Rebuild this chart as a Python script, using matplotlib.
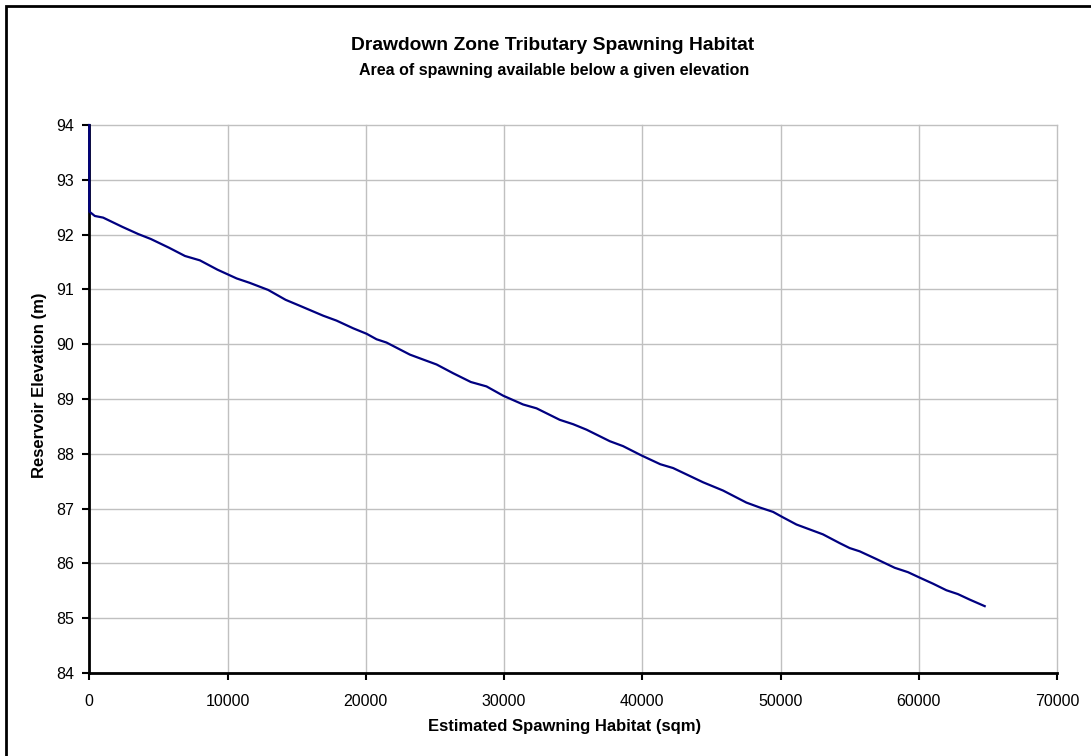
import matplotlib
matplotlib.use("Agg")
from matplotlib import pyplot as plt
from matplotlib.patches import Rectangle

plt.rcParams['font.family'] = ['Liberation Sans', 'DejaVu Sans']

# spawning area (sqm) available below each reservoir elevation (m)
habitat_sqm = [0, 0, 400, 800, 1000, 2400, 3540, 4450, 5770, 6920, 8000, 9270,
               10660, 11600, 12940, 14200, 15240, 16920, 17890, 19090, 20060,
               20780, 21500, 23190, 24150, 25120, 26320, 27600, 28730, 29940,
               31380, 32350, 34030, 35000, 35970, 37650, 38610, 39940, 41300,
               42230, 44400, 45840, 47530, 48500, 49460, 50180, 51150, 52110,
               53070, 54280, 55000, 55730, 56930, 58260, 59220, 60070, 61030,
               62000, 62830, 63680, 64770]
elevation_m = [94.0, 92.42, 92.34, 92.32, 92.31, 92.14, 92.01, 91.92, 91.76,
               91.61, 91.53, 91.36, 91.20, 91.12, 90.99, 90.81, 90.70, 90.52,
               90.43, 90.29, 90.19, 90.09, 90.03, 89.81, 89.72, 89.63, 89.47,
               89.31, 89.23, 89.06, 88.90, 88.83, 88.62, 88.54, 88.44, 88.23,
               88.14, 87.97, 87.81, 87.74, 87.48, 87.33, 87.11, 87.02, 86.94,
               86.84, 86.71, 86.62, 86.53, 86.37, 86.28, 86.22, 86.08, 85.92,
               85.84, 85.74, 85.63, 85.51, 85.44, 85.34, 85.22]

x_ticks = list(range(0, 70001, 10000))
y_ticks = list(range(84, 95))

W, H = 1091, 756
fig = plt.figure(figsize=(W / 100, H / 100), dpi=100)

# chart border (only top and left fall inside the picture)
fig.patches.append(Rectangle((6 / W, -0.1), 1.2, 1 - 5.5 / H + 0.1,
                             transform=fig.transFigure, fill=False,
                             edgecolor='black', linewidth=2.0))

ax = fig.add_axes([89.3 / W, 1 - 673 / H, (1057 - 89.3) / W, (673 - 125) / H])
ax.plot(habitat_sqm, elevation_m, color='#000080', linewidth=1.6,
        solid_joinstyle='round', zorder=3, clip_on=False)

ax.set_xlim(0, 70000)
ax.set_ylim(84, 94)
ax.set_xticks(x_ticks)
ax.set_yticks(y_ticks)
ax.grid(True, color='#c0c0c0', linewidth=1.0)
ax.set_axisbelow(True)
for gl in ax.get_xgridlines() + ax.get_ygridlines():
    gl.set_clip_on(False)
for side in ['top', 'right']:
    ax.spines[side].set_visible(False)
for side in ['left', 'bottom']:
    ax.spines[side].set_linewidth(2.0)
ax.tick_params(direction='out', length=5, width=1.5, labelsize=11.5,
               colors='black', pad=10)
ax.tick_params(axis='y', pad=6)

fig.text(553 / W, 1 - 46 / H, "Drawdown Zone Tributary Spawning Habitat",
         ha='center', va='center', fontsize=13.9, fontweight='bold')
fig.text(554 / W, 1 - 70 / H, "Area of spawning available below a given elevation",
         ha='center', va='center', fontsize=11.5, fontweight='bold')
fig.text(565 / W, 1 - 726 / H, "Estimated Spawning Habitat (sqm)",
         ha='center', va='center', fontsize=12, fontweight='bold')
fig.text(40 / W, 1 - 385 / H, "Reservoir Elevation (m)", rotation=90,
         ha='center', va='center', fontsize=12, fontweight='bold')

fig.savefig("out.png", dpi=100)
